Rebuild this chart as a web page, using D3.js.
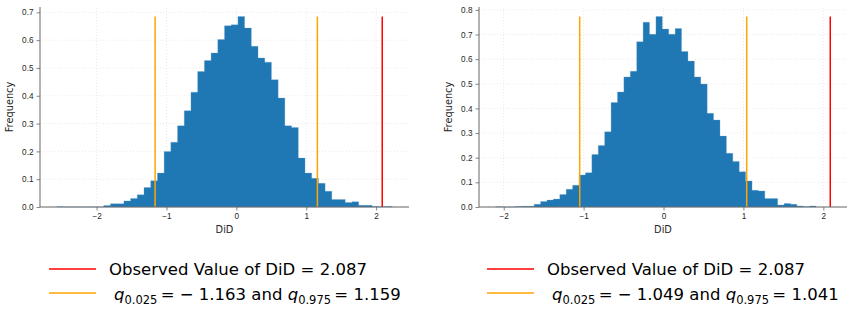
<!DOCTYPE html>
<html>
<head>
<meta charset="utf-8">
<script src="https://cdn.jsdelivr.net/npm/d3@7"></script>
<style>
  body { margin: 0; background: #fff; }
  svg { font-family: "DejaVu Sans", sans-serif; }
</style>
</head>
<body>
<svg id="chart" width="853" height="310"></svg>
<script>
// histogram bins (density)
var leftBinStart = -2.57, leftBinWidth = 0.096;
var leftFreq = [0.001, 0, 0, 0, 0, 0, 0,
  0.005, 0.012, 0.012, 0.022, 0.031, 0.044, 0.070, 0.094, 0.122, 0.200,
  0.233, 0.292, 0.346, 0.413, 0.487, 0.527, 0.554, 0.602, 0.652, 0.655,
  0.685, 0.644, 0.578, 0.536, 0.521, 0.458, 0.392, 0.292, 0.286, 0.176,
  0.122, 0.103, 0.085, 0.057, 0.027, 0.027, 0.016, 0.019, 0.006, 0.006,
  0.002, 0.001, 0.002];
var leftObserved = 2.087;
var leftQuantiles = [-1.163, 1.159];

var rightBinStart = -2.10, rightBinWidth = 0.0802;
var rightFreq = [0.001, 0, 0, 0.002, 0.003, 0.003,
  0.011, 0.022, 0.028, 0.032, 0.051, 0.072, 0.088, 0.130, 0.139, 0.213,
  0.250, 0.305, 0.424, 0.467, 0.528, 0.551, 0.671, 0.750, 0.701, 0.773,
  0.722, 0.701, 0.724, 0.631, 0.592, 0.528, 0.499, 0.380, 0.353, 0.288,
  0.218, 0.185, 0.143, 0.106, 0.068, 0.065, 0.034, 0.034, 0.008, 0.014,
  0.011, 0.004, 0.001, 0.004];
var rightObserved = 2.087;
var rightQuantiles = [-1.049, 1.041];

var xTicks = [-2, -1, 0, 1, 2];
var leftYTicks = [0, 0.1, 0.2, 0.3, 0.4, 0.5, 0.6, 0.7];
var rightYTicks = [0, 0.1, 0.2, 0.3, 0.4, 0.5, 0.6, 0.7, 0.8];

var svg = d3.select("#chart");

function panel(opt) {
  var freq = opt.freq,
      edges = d3.range(freq.length + 1).map(function(i) { return opt.start + i * opt.width; }),
      vmax = d3.max(freq),
      lo = Math.min(edges[0], opt.q[0]),
      hi = Math.max(edges[edges.length - 1], opt.obs),
      pad = (hi - lo) * 0.05;

  var x = d3.scaleLinear().domain([lo - pad, hi + pad]).range([opt.left, opt.right]);
  var y = d3.scaleLinear().domain([0, vmax * 1.05]).range([207, 7]);

  var g = svg.append("g");

  // dotted grid
  g.append("g").selectAll("line.gx")
    .data(opt.xticks).enter().append("line")
      .attr("x1", function(d) { return x(d); }).attr("x2", function(d) { return x(d); })
      .attr("y1", y.range()[0]).attr("y2", y.range()[1])
      .attr("stroke", "#e4e4e4").attr("stroke-width", 0.8).attr("stroke-dasharray", "1,2");
  g.append("g").selectAll("line.gy")
    .data(opt.yticks).enter().append("line")
      .attr("y1", function(d) { return y(d); }).attr("y2", function(d) { return y(d); })
      .attr("x1", opt.left).attr("x2", opt.right)
      .attr("stroke", "#e4e4e4").attr("stroke-width", 0.8).attr("stroke-dasharray", "1,2");

  // bars, drawn as one stepped outline so no seams show between them
  var steps = [];
  freq.forEach(function(d, i) { steps.push([edges[i], d], [edges[i + 1], d]); });
  var area = d3.area()
    .x(function(p) { return x(p[0]); })
    .y0(y(0))
    .y1(function(p) { return y(p[1]); });
  g.append("path")
    .datum(steps)
    .attr("d", area)
    .attr("fill", "#1f77b4")
    .attr("stroke", "#6aa6d3").attr("stroke-width", 0.5).attr("stroke-opacity", 0.6);

  // vertical reference lines
  g.append("g").selectAll("line.q")
    .data(opt.q).enter().append("line")
      .attr("x1", function(d) { return x(d); }).attr("x2", function(d) { return x(d); })
      .attr("y1", y(0)).attr("y2", y(vmax))
      .attr("stroke", "orange").attr("stroke-width", 1.5);
  g.append("line")
    .attr("x1", x(opt.obs)).attr("x2", x(opt.obs))
    .attr("y1", y(0)).attr("y2", y(vmax))
    .attr("stroke", "red").attr("stroke-width", 1.5);

  // axes
  var xa = g.append("g").attr("transform", "translate(0," + y(0) + ")")
    .call(d3.axisBottom(x).tickValues(opt.xticks).tickSize(3.5).tickPadding(3)
      .tickFormat(function(d) { return d < 0 ? "\u2212" + Math.abs(d) : d; }));
  var ya = g.append("g").attr("transform", "translate(" + opt.left + ",0)")
    .call(d3.axisLeft(y).tickValues(opt.yticks).tickSize(3.5).tickPadding(3)
      .tickFormat(d3.format(".1f")));
  [xa, ya].forEach(function(a) {
    a.select(".domain").attr("stroke", "#666").attr("stroke-width", 1);
    a.selectAll(".tick line").attr("stroke", "#666").attr("stroke-width", 0.8);
    a.selectAll(".tick text").attr("fill", "#262626").style("font-size", "8.2px");
  });
  xa.select(".domain").attr("d", "M" + opt.left + ",0H" + opt.right);
  ya.select(".domain").attr("d", "M0," + y(0) + "V" + y.range()[1]);

  g.append("text")
    .attr("x", (opt.left + opt.right) / 2).attr("y", 233)
    .attr("text-anchor", "middle").attr("fill", "#262626")
    .style("font-size", "9.8px").text("DiD");
  g.append("text")
    .attr("transform", "translate(" + opt.ylabX + "," + ((y(0) + y.range()[1]) / 2) + ") rotate(-90)")
    .attr("text-anchor", "middle").attr("fill", "#262626")
    .style("font-size", "9.8px").text("Frequency");

  // legend
  var lg = g.append("g");
  lg.append("line").attr("x1", opt.legX).attr("x2", opt.legX + 47)
    .attr("y1", 269).attr("y2", 269).attr("stroke", "red").attr("stroke-width", 1.6);
  lg.append("line").attr("x1", opt.legX).attr("x2", opt.legX + 47)
    .attr("y1", 293).attr("y2", 293).attr("stroke", "orange").attr("stroke-width", 1.6);
  lg.append("text").attr("x", opt.legX + 60).attr("y", 275)
    .style("font-size", "16.5px").attr("fill", "#000")
    .text("Observed Value of DiD = " + opt.obs.toFixed(3));
  var t = lg.append("text").attr("x", opt.legX + 65).attr("y", 300)
    .style("font-size", "16.5px").attr("fill", "#000");
  function fmt(v) { return v < 0 ? "\u2212 " + Math.abs(v).toFixed(3) : v.toFixed(3); }
  t.append("tspan").style("font-style", "italic").text("q");
  t.append("tspan").attr("dy", 3.5).style("font-size", "11.5px").text("0.025");
  t.append("tspan").attr("dy", -3.5).text("\u2009= " + fmt(opt.q[0]) + " and ");
  t.append("tspan").style("font-style", "italic").text("q");
  t.append("tspan").attr("dy", 3.5).style("font-size", "11.5px").text("0.975");
  t.append("tspan").attr("dy", -3.5).text("\u2009= " + fmt(opt.q[1]));
}

panel({ freq: leftFreq, start: leftBinStart, width: leftBinWidth, obs: leftObserved, q: leftQuantiles,
        left: 40, right: 409, xticks: xTicks, yticks: leftYTicks, ylabX: 13, legX: 49 });
panel({ freq: rightFreq, start: rightBinStart, width: rightBinWidth, obs: rightObserved, q: rightQuantiles,
        left: 479, right: 847, xticks: xTicks, yticks: rightYTicks, ylabX: 452, legX: 487 });
</script>
</body>
</html>
